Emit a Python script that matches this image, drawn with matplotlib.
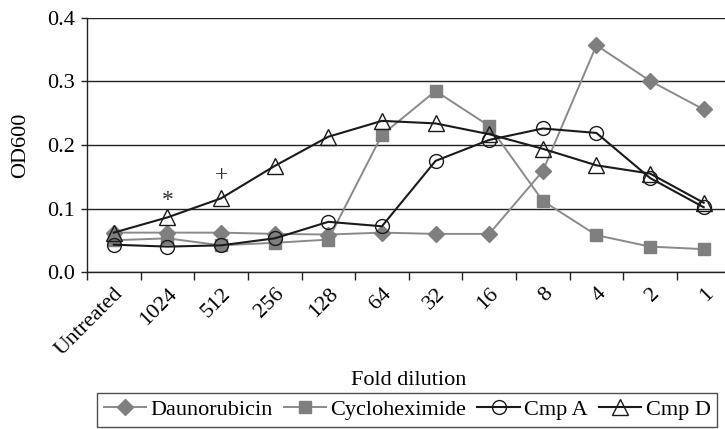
import matplotlib
matplotlib.use("Agg")
import matplotlib.pyplot as plt
import numpy as np

categories = ["Untreated", "1024", "512", "256", "128", "64", "32", "16", "8", "4", "2", "1"]
daunorubicin = [0.062, 0.062, 0.062, 0.060, 0.059, 0.062, 0.060, 0.060, 0.159, 0.357, 0.301, 0.256]
cycloheximide = [0.050, 0.053, 0.042, 0.046, 0.051, 0.216, 0.285, 0.230, 0.112, 0.058, 0.040, 0.036]
cmp_a = [0.043, 0.040, 0.042, 0.053, 0.079, 0.072, 0.175, 0.208, 0.226, 0.219, 0.148, 0.102]
cmp_d = [0.062, 0.086, 0.116, 0.167, 0.213, 0.238, 0.234, 0.217, 0.194, 0.168, 0.155, 0.109]
annotations = [(1, 0.112, "*"), (2, 0.152, "+")]

plt.rcParams['font.family'] = ['Liberation Serif', 'DejaVu Serif']
fig = plt.figure(figsize=(7.25, 4.29), dpi=100)
ax = fig.add_axes([87/725, 157/429, 643.5/725, 254/429])

x = np.arange(len(categories))
gray_line = '#8a8a8a'
gray_mark = '#7f7f7f'
black = '#1a1a1a'

ax.plot(x, daunorubicin, color=gray_line, lw=1.4, marker='D', ms=8,
        mfc=gray_mark, mec=gray_mark, label='Daunorubicin', zorder=3)
ax.plot(x, cycloheximide, color=gray_line, lw=1.4, marker='s', ms=9,
        mfc=gray_mark, mec=gray_mark, label='Cycloheximide', zorder=3)
ax.plot(x, cmp_a, color=black, lw=1.5, marker='o', ms=10,
        mfc='none', mec=black, mew=1.0, label='Cmp A', zorder=4)
ax.plot(x, cmp_d, color=black, lw=1.5, marker='^', ms=11,
        mfc='none', mec=black, mew=1.0, label='Cmp D', zorder=5)

for xi, yi, s in annotations:
    ax.text(xi, yi, s, ha='center', va='center', fontsize=17, color='#333333')

ax.set_xlim(-0.5, len(categories) - 0.5)
ax.set_ylim(0, 0.4)
ax.set_yticks([0.0, 0.1, 0.2, 0.3, 0.4])
ax.set_yticklabels(["0.0", "0.1", "0.2", "0.3", "0.4"], fontsize=16)
ax.yaxis.grid(True, color='#222222', lw=1.0)
ax.set_axisbelow(True)

ax.set_xticks(x)
ax.set_xticklabels(categories, rotation=45, ha='right', rotation_mode='anchor', fontsize=16)
ax.set_xticks(np.arange(-0.5, len(categories) + 0.5, 1), minor=True)
ax.tick_params(axis='x', which='major', length=0, pad=9)
ax.tick_params(axis='x', which='minor', length=6, width=1, color='#222222', direction='out')
ax.tick_params(axis='y', length=4, width=1, color='#222222', direction='out', pad=5)

for side in ['top', 'right']:
    ax.spines[side].set_visible(False)
for side in ['left', 'bottom']:
    ax.spines[side].set_color('#222222')
    ax.spines[side].set_linewidth(1.0)

ax.set_ylabel("OD600", fontsize=16, labelpad=12)
ax.set_xlabel("Fold dilution", fontsize=16, labelpad=8)

leg = fig.legend(loc='upper left', bbox_to_anchor=(97/725, 1 - 393/429), ncol=4,
                 fontsize=16, frameon=True, fancybox=False, edgecolor='#222222',
                 handlelength=1.9, handletextpad=0.2, columnspacing=0.5,
                 borderpad=0.3, borderaxespad=0)
leg.get_frame().set_linewidth(1.0)

fig.savefig("out.png", dpi=100)
